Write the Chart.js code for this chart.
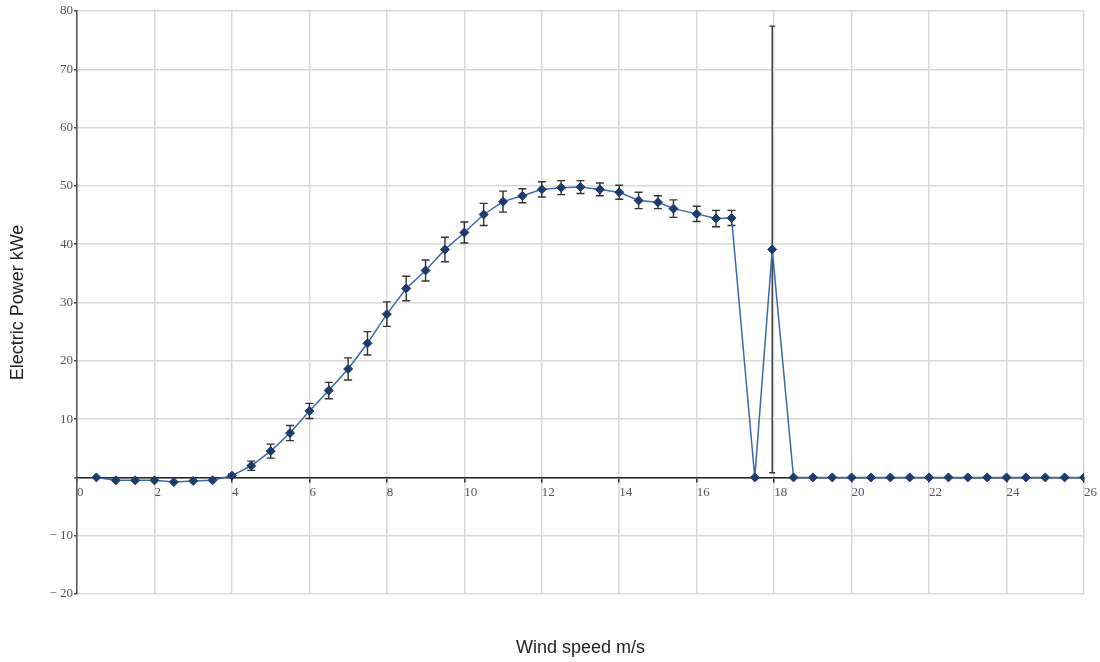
<!DOCTYPE html>
<html>
<head>
<meta charset="utf-8">
<title>Electric power vs wind speed</title>
<script src="https://cdn.jsdelivr.net/npm/chart.js@4.4.1/dist/chart.umd.min.js"></script>
<style>
    body { margin: 0; background: #fff; }
    #wrap { width: 1100px; height: 662px; }
</style>
</head>
<body>
<div id="wrap"><canvas id="powerChart" width="1100" height="662"></canvas></div>
<script>
// bin centre wind speeds (m/s)
let windSpeed = [0.5, 1, 1.5, 2, 2.5, 3, 3.5, 4, 4.5, 5, 5.5, 6, 6.5, 7, 7.5, 8, 8.5, 9, 9.5, 10,
    10.5, 11, 11.5, 12, 12.5, 13, 13.5, 14, 14.5, 15, 15.4, 16, 16.5, 16.9, 17.5, 17.95,
    18.5, 19, 19.5, 20, 20.5, 21, 21.5, 22, 22.5, 23, 23.5, 24, 24.5, 25, 25.5, 26];

// mean electric power (kWe)
let power = [0, -0.5, -0.5, -0.5, -0.8, -0.6, -0.5, 0.3, 2.0, 4.5, 7.6, 11.4, 14.9, 18.6, 23.0, 28.0,
    32.4, 35.5, 39.1, 42.0, 45.1, 47.3, 48.3, 49.4, 49.7, 49.8, 49.4, 48.9, 47.5, 47.2, 46.1, 45.2,
    44.4, 44.5, 0, 39.1,
    0, 0, 0, 0, 0, 0, 0, 0, 0, 0, 0, 0, 0, 0, 0, 0];

// +/- uncertainty (kWe)
let powerErr = [0, 0, 0, 0, 0, 0, 0, 0.3, 0.8, 1.2, 1.3, 1.3, 1.4, 1.9, 2.0, 2.1,
    2.1, 1.8, 2.1, 1.8, 1.9, 1.8, 1.2, 1.3, 1.2, 1.1, 1.1, 1.2, 1.4, 1.1, 1.5, 1.3,
    1.4, 1.3, 0, 38.3,
    0, 0, 0, 0, 0, 0, 0, 0, 0, 0, 0, 0, 0, 0, 0, 0];

const serif = "'Liberation Serif', 'DejaVu Serif', serif";
const sans = "'Liberation Sans', Arial, sans-serif";

// error bars drawn under the markers
const errorBars = {
    id: "errorBars",
    beforeDatasetsDraw(chart) {
        let ctx = chart.ctx;
        let xs = chart.scales.x;
        let ys = chart.scales.y;
        ctx.save();
        ctx.strokeStyle = "#333";
        ctx.lineWidth = 1.4;
        windSpeed.forEach((w, i) => {
            let e = powerErr[i];
            if (!e) return;
            let px = xs.getPixelForValue(w);
            let top = ys.getPixelForValue(power[i] + e);
            let bot = ys.getPixelForValue(power[i] - e);
            let cap = e > 10 ? 3 : 4;
            ctx.beginPath();
            ctx.moveTo(px, top);
            ctx.lineTo(px, bot);
            ctx.moveTo(px - cap, top);
            ctx.lineTo(px + cap, top);
            ctx.moveTo(px - cap, bot);
            ctx.lineTo(px + cap, bot);
            ctx.stroke();
        });
        ctx.restore();
    }
};

// x title sits at the bottom of the canvas, not under the y=0 axis
const xTitle = {
    id: "xTitle",
    afterDraw(chart) {
        let ctx = chart.ctx;
        let area = chart.chartArea;
        ctx.save();
        ctx.font = "18px " + sans;
        ctx.fillStyle = "#222";
        ctx.textAlign = "center";
        ctx.textBaseline = "middle";
        ctx.fillText("Wind speed m/s", (area.left + area.right) / 2, 648);
        ctx.restore();
    }
};

let ctx = document.getElementById("powerChart").getContext("2d");
let powerChart = new Chart(ctx, {
    type: "scatter",
    data: {
        datasets: [{
            data: windSpeed.map((w, i) => ({ x: w, y: power[i] })),
            showLine: true,
            borderColor: "#3c6aa8",
            borderWidth: 1.5,
            pointStyle: "rectRot",
            pointRadius: 4.5,
            pointBackgroundColor: "#1b3c6e",
            pointBorderColor: "#1b3c6e",
            pointBorderWidth: 1
        }]
    },
    options: {
        responsive: false,
        animation: false,
        layout: { padding: { top: 11, right: 16, bottom: 68, left: 0 } },
        plugins: {
            legend: { display: false },
            tooltip: { enabled: false }
        },
        scales: {
            x: {
                type: "linear",
                position: { y: 0 },
                min: 0,
                max: 26,
                ticks: {
                    stepSize: 2,
                    align: "start",
                    maxRotation: 0,
                    padding: 3,
                    color: "#555",
                    font: { family: serif, size: 13 }
                },
                grid: { color: "#d9d9d9", lineWidth: 1.5, tickColor: "#333", tickLength: 4 },
                border: { color: "#222", width: 1.5 }
            },
            y: {
                min: -20,
                max: 80,
                afterFit(scale) { scale.width = 77; },
                ticks: {
                    stepSize: 10,
                    padding: 1,
                    color: "#555",
                    font: { family: serif, size: 13 },
                    callback: v => v === 0 ? "" : (v < 0 ? "\u2212 " + Math.abs(v) : String(v))
                },
                title: {
                    display: true,
                    text: "Electric Power kWe",
                    color: "#222",
                    font: { family: sans, size: 18 },
                    padding: { top: 7, bottom: 0 }
                },
                grid: { color: "#d9d9d9", lineWidth: 1.5, tickColor: "#444", tickLength: 3 },
                border: { color: "#555", width: 1.5 }
            }
        }
    },
    plugins: [errorBars, xTitle]
});
</script>
</body>
</html>
